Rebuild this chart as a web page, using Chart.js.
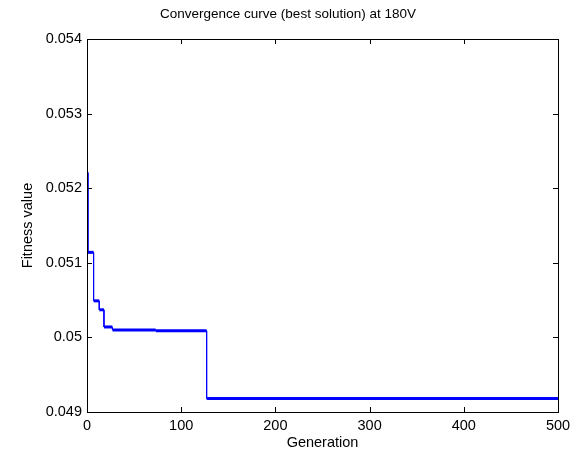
<!DOCTYPE html>
<html>
<head>
<meta charset="utf-8">
<script src="https://cdn.jsdelivr.net/npm/chart.js@4/dist/chart.umd.min.js"></script>
<style>
  html, body { margin: 0; padding: 0; background: #fff; }
  canvas { display: block; }
</style>
</head>
<body>
<canvas id="conv-chart" width="582" height="452"></canvas>
<script>
// Step starts (generation) and the best fitness held from that generation on
const stepGenerations = [0, 1, 7, 13, 18, 27, 73, 127];
const stepFitness = [0.05221, 0.05114, 0.05049, 0.05037, 0.05014, 0.05010, 0.05009, 0.04918];
const lastGeneration = 500;

const xTicks = [0, 100, 200, 300, 400, 500];
const yTicks = [0.049, 0.05, 0.051, 0.052, 0.053, 0.054];

const chartTitle = 'Convergence curve (best solution) at 180V';

function buildStepPoints() {
    const pts = [];
    stepGenerations.forEach((g, i) => {
        const next = i + 1 < stepGenerations.length ? stepGenerations[i + 1] : lastGeneration;
        pts.push({ x: g, y: stepFitness[i] });
        pts.push({ x: next, y: stepFitness[i] });
    });
    return pts;
}

const font = "'Liberation Sans', Arial, sans-serif";

// MATLAB style box with inward ticks on all four sides, plus the title
const boxPlugin = {
    id: 'matlabBox',
    afterDraw(chart) {
        const { ctx, chartArea: a, scales } = chart;
        const len = 5;
        ctx.save();
        ctx.strokeStyle = '#000';
        ctx.lineWidth = 1;
        ctx.beginPath();
        scales.x.ticks.forEach(t => {
            const px = Math.round(scales.x.getPixelForValue(t.value)) + 0.5;
            ctx.moveTo(px, a.bottom); ctx.lineTo(px, a.bottom - len);
            ctx.moveTo(px, a.top); ctx.lineTo(px, a.top + len);
        });
        scales.y.ticks.forEach(t => {
            const py = Math.round(scales.y.getPixelForValue(t.value)) + 0.5;
            ctx.moveTo(a.left, py); ctx.lineTo(a.left + len, py);
            ctx.moveTo(a.right, py); ctx.lineTo(a.right - len, py);
        });
        ctx.stroke();
        ctx.strokeRect(Math.round(a.left) + 0.5, Math.round(a.top) + 0.5,
            Math.round(a.right - a.left), Math.round(a.bottom - a.top));

        ctx.fillStyle = '#000';
        ctx.font = '13.5px ' + font;
        ctx.textAlign = 'center';
        ctx.textBaseline = 'middle';
        ctx.fillText(chartTitle, 288, 14);
        ctx.restore();
    }
};

new Chart(document.getElementById('conv-chart').getContext('2d'), {
    type: 'line',
    data: {
        datasets: [{
            data: buildStepPoints(),
            borderColor: 'rgb(0, 0, 255)',
            borderWidth: 1,
            pointRadius: 0,
            tension: 0,
            fill: false,
            segment: {
                borderWidth: c => (c.p0.parsed.y === c.p1.parsed.y ? 3 : 1)
            }
        }]
    },
    options: {
        responsive: false,
        animation: false,
        devicePixelRatio: 1,
        layout: { padding: { left: 19, right: 24, top: 39, bottom: 0 } },
        plugins: {
            legend: { display: false },
            tooltip: { enabled: false },
            title: { display: false }
        },
        scales: {
            x: {
                type: 'linear',
                min: 0,
                max: lastGeneration,
                afterBuildTicks: s => { s.ticks = xTicks.map(v => ({ value: v })); },
                afterFit: s => { s.height = 40; },
                grid: { display: false, drawTicks: false },
                border: { display: false },
                ticks: {
                    color: '#000',
                    padding: 5,
                    font: { family: font, size: 14.5 }
                },
                title: {
                    display: true,
                    text: 'Generation',
                    color: '#000',
                    padding: 0,
                    font: { family: font, size: 14.5 }
                }
            },
            y: {
                min: 0.049,
                max: 0.054,
                afterBuildTicks: s => { s.ticks = yTicks.map(v => ({ value: v })); },
                afterFit: s => { s.width = 68; },
                grid: { display: false, drawTicks: false },
                border: { display: false },
                ticks: {
                    color: '#000',
                    padding: 5,
                    font: { family: font, size: 14.5 },
                    callback: v => String(Number(v.toFixed(3)))
                },
                title: {
                    display: true,
                    text: 'Fitness value',
                    color: '#000',
                    padding: 0,
                    font: { family: font, size: 14.5 }
                }
            }
        }
    },
    plugins: [boxPlugin]
});
</script>
</body>
</html>
